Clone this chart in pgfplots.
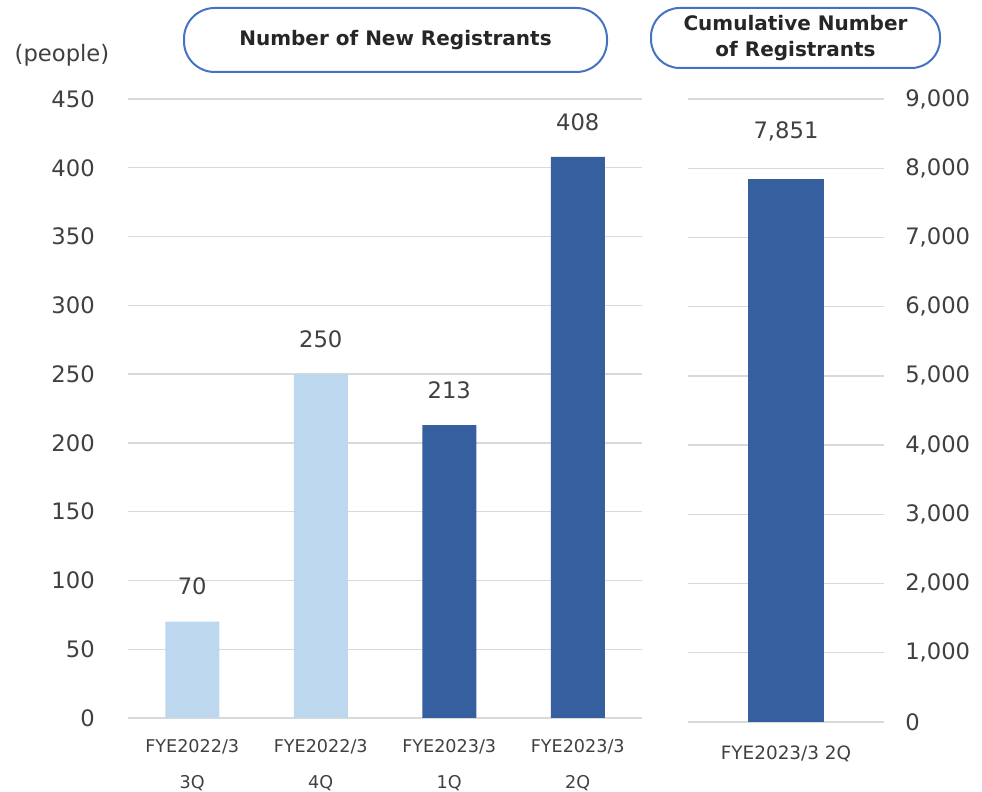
\documentclass[border=0pt]{standalone}
\usepackage{pgfplots}
\pgfplotsset{compat=1.18}
\usepackage{fontspec}
\setmainfont{DejaVu Sans}
\definecolor{lightbar}{HTML}{BDD7EE}
\definecolor{darkbar}{HTML}{365F9F}
\definecolor{boxblue}{HTML}{4472C4}
\definecolor{gridgray}{HTML}{D9D9D9}
\definecolor{txt}{HTML}{404040}
\begin{document}
\begin{tikzpicture}[x=0.75pt,y=0.75pt]
\useasboundingbox (0,0) rectangle (982,792);
\pgfplotsset{
  regbase/.style={
    scale only axis,
    axis line style={draw=none},
    major tick length=0pt,
    ymajorgrids=true,
    grid style={gridgray, line width=1pt},
    ymin=0,
    /pgf/number format/assume math mode=true,
    ticklabel style={text=txt},
    every node near coord/.append style={font=\fontsize{17}{20}\selectfont, text=txt, anchor=center, inner sep=0pt},
  }
}
% left axis: new registrants per quarter
\begin{axis}[regbase,
  at={(96pt,55.5pt)}, anchor=south west,
  width=385.5pt, height=464.25pt,
  xmin=-0.5, xmax=3.5, ymax=450,
  xtick={0,1,2,3},
  ytick={0,50,...,450},
  yticklabel style={font=\fontsize{17}{20}\selectfont, anchor=east, inner sep=0pt, xshift=-24.75pt},
  xticklabels={FYE2022/3\\3Q, FYE2022/3\\4Q, FYE2023/3\\1Q, FYE2023/3\\2Q},
  xticklabel style={font=\fontsize{13.2}{27}\selectfont, align=center, anchor=north, inner sep=0pt, yshift=-16pt},
  nodes near coords,
  every node near coord/.append style={yshift=26.25pt},
]
\addplot[ybar, bar width=40.5pt, fill=lightbar, draw=none] coordinates {(0,70) (1,250)};
\addplot[ybar, bar width=40.5pt, fill=darkbar, draw=none] coordinates {(2,213) (3,408)};
\end{axis}
% right axis: cumulative
\begin{axis}[regbase,
  at={(516pt,52.5pt)}, anchor=south west,
  width=147pt, height=467.25pt,
  xmin=-0.5, xmax=0.5, ymax=9000,
  xtick={0},
  ytick={0,1000,...,9000},
  yticklabels={0,{1,000},{2,000},{3,000},{4,000},{5,000},{6,000},{7,000},{8,000},{9,000}},
  yticklabel pos=right,
  yticklabel style={font=\fontsize{17}{20}\selectfont, anchor=west, inner sep=0pt, xshift=15.75pt},
  xticklabels={FYE2023/3 2Q},
  xticklabel style={font=\fontsize{13.8}{16}\selectfont, anchor=north, inner sep=0pt, yshift=-18pt},
  nodes near coords={7,851},
  every node near coord/.append style={yshift=35pt},
]
\addplot[ybar, bar width=57pt, fill=darkbar, draw=none] coordinates {(0,7851)};
\end{axis}
% title boxes
\draw[boxblue, line width=1.5pt, rounded corners=23pt] (184,720) rectangle (607,784);
\node[font=\bfseries\fontsize{15}{18}\selectfont, text=black!85] at (395.5,752) {Number of New Registrants};
\draw[boxblue, line width=1.5pt, rounded corners=21.5pt] (651,724) rectangle (940,784);
\node[font=\bfseries\fontsize{15}{19.5}\selectfont, text=black!85, align=center] at (795.5,754) {Cumulative Number\\of Registrants};
\node[font=\fontsize{17}{20}\selectfont, text=txt] at (62,737) {(people)};
\end{tikzpicture}
\end{document}
